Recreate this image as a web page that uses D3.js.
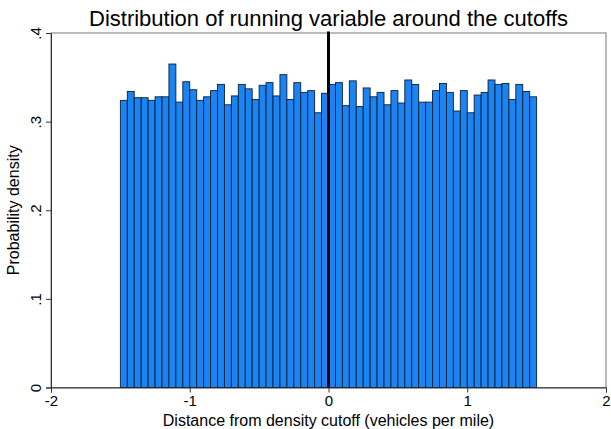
<!DOCTYPE html>
<html>
<head>
<meta charset="utf-8">
<script src="https://cdn.jsdelivr.net/npm/d3@7"></script>
<style>
  body { margin: 0; background: #fff; }
  text { font-family: "Liberation Sans", Arial, sans-serif; fill: #000; }
</style>
</head>
<body>
<svg id="chart"></svg>
<script>
// bin left edges run from -1.5 to 1.45 in steps of 0.05
const binWidth = 0.05;
const binStart = -1.5;
const densities = [
  0.324, 0.334, 0.327, 0.327, 0.324, 0.328, 0.328, 0.365, 0.322, 0.345,
  0.336, 0.324, 0.328, 0.335, 0.342, 0.319, 0.329, 0.342, 0.337, 0.325,
  0.341, 0.344, 0.329, 0.353, 0.325, 0.344, 0.333, 0.335, 0.310, 0.332,
  0.342, 0.344, 0.318, 0.346, 0.317, 0.338, 0.328, 0.333, 0.319, 0.335,
  0.321, 0.347, 0.342, 0.322, 0.322, 0.335, 0.343, 0.333, 0.312, 0.335,
  0.310, 0.330, 0.333, 0.347, 0.342, 0.343, 0.325, 0.342, 0.334, 0.328
];
const xTicks = [-2, -1, 0, 1, 2];
const yTicks = [0, 0.1, 0.2, 0.3, 0.4];
const cutoff = 0;

const w = 611;
const h = 429;
const mLeft = 51, mRight = 606, mTop = 33, mBottom = 387.5;

const svg = d3.select("#chart")
              .attr("width", w)
              .attr("height", h);

const x = d3.scaleLinear().domain([-2, 2]).range([mLeft, mRight]);
const y = d3.scaleLinear().domain([0, 0.4]).range([mBottom, mTop]);

// plot region outline
svg.append("rect")
   .attr("x", mLeft)
   .attr("y", mTop)
   .attr("width", mRight - mLeft)
   .attr("height", mBottom - mTop)
   .attr("fill", "none")
   .attr("stroke", "#777")
   .attr("stroke-width", 1);

svg.append("g")
   .selectAll("rect")
   .data(densities)
   .enter()
   .append("rect")
   .attr("x", (d, i) => x(binStart + i * binWidth))
   .attr("y", d => y(d))
   .attr("width", (d, i) => x(binStart + (i + 1) * binWidth) - x(binStart + i * binWidth))
   .attr("height", d => y(0) - y(d))
   .attr("fill", "#1a84f2")
   .attr("stroke", "#0b1f3a")
   .attr("stroke-width", 0.9);

// cutoff line
svg.append("line")
   .attr("x1", x(cutoff))
   .attr("x2", x(cutoff))
   .attr("y1", mTop - 1.5)
   .attr("y2", mBottom)
   .attr("stroke", "#000")
   .attr("stroke-width", 3);

const xAxis = svg.append("g")
                 .attr("transform", "translate(0," + mBottom + ")")
                 .call(d3.axisBottom(x).tickValues(xTicks).tickSize(5).tickPadding(3)
                         .tickFormat(d => String(d)));
xAxis.select(".domain").attr("stroke", "#333");
xAxis.selectAll(".tick line").attr("stroke", "#333");
xAxis.selectAll("text").style("font-size", "15px");

const yAxis = svg.append("g")
                 .attr("transform", "translate(" + mLeft + ",0)")
                 .call(d3.axisLeft(y).tickValues(yTicks).tickSize(5)
                         .tickFormat(d => d === 0 ? "0" : d3.format(".1f")(d).replace(/^0/, "")));
yAxis.select(".domain").attr("stroke", "#333");
yAxis.selectAll(".tick line").attr("stroke", "#333");
yAxis.selectAll("text")
     .attr("x", null)
     .attr("dy", null)
     .attr("transform", "translate(-10,0) rotate(-90)")
     .attr("text-anchor", "middle")
     .style("font-size", "15px");

svg.append("text")
   .attr("x", (mLeft + mRight) / 2)
   .attr("y", 26)
   .attr("text-anchor", "middle")
   .style("font-size", "22px")
   .text("Distribution of running variable around the cutoffs");

svg.append("text")
   .attr("x", (mLeft + mRight) / 2)
   .attr("y", 426)
   .attr("text-anchor", "middle")
   .style("font-size", "16px")
   .text("Distance from density cutoff (vehicles per mile)");

svg.append("text")
   .attr("transform", "translate(19," + (mTop + mBottom) / 2 + ") rotate(-90)")
   .attr("text-anchor", "middle")
   .style("font-size", "16px")
   .text("Probability density");
</script>
</body>
</html>
